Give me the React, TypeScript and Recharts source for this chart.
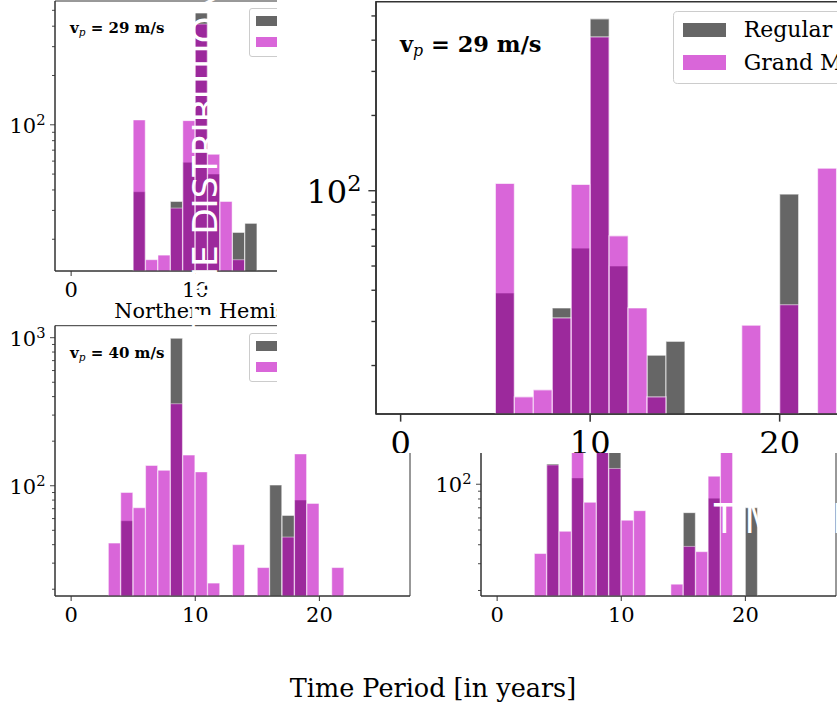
import React from "react";
import { Bar, BarChart, Legend, ReferenceArea, XAxis, YAxis } from "recharts";

const binCenters = [
  0.5, 1.5, 2.5, 3.5, 4.5, 5.5, 6.5, 7.5, 8.5, 9.5, 10.5, 11.5, 12.5,
  13.5, 14.5, 15.5, 16.5, 17.5, 18.5, 19.5, 20.5, 21.5, 22.5, 23.5, 24.5, 25.5,
];
const xTicks = [0, 10, 20];
const xDomain = [-1.3, 27.3];
const seriesNames = ["Regular", "Grand Minima"];

// v_p = 29 m/s (small panel + the enlarged copy)
const regular29 = [null, null, null, null, null, 39, null, null, 34, 59, 487, 50, null, 22, 25, null, null, null, null, null, 97, null, null, null, null, null];
const grand29 = [null, null, null, null, null, 107, 15, 16, 31, 106, 412, 66, 34, 15, null, null, null, null, 29, null, 35, null, 123, null, null, null];

// v_p = 40 m/s
const regular40 = [null, null, null, null, 58, null, null, null, 990, null, null, null, null, null, null, null, 101, 63, 80, null, null, null, null, null, null, null];
const grand40 = [null, null, null, 41, 90, 71, 137, 127, 358, 161, 124, 22, null, 40, null, 28, null, 45, 164, 76, null, 28, null, null, null, null];

// lower right panel (top part hidden)
const regularLR = [null, null, null, null, 136, null, 110, null, 240, 260, null, null, null, null, null, 65, null, 81, null, null, 70, null, null, null, null, null];
const grandLR = [null, null, null, 35, 134, 49, 230, 76, 200, 127, 58, 67, null, null, 22, 39, 36, 113, 180, null, null, null, null, null, null, null];

const yTicks29 = [20, 30, 40, 50, 60, 70, 80, 90, 100, 200, 300, 400, 500];
const yTicks40 = [20, 30, 40, 50, 60, 70, 80, 90, 100, 200, 300, 400, 500, 600, 700, 800, 900, 1000];
const yDomain29 = [12.8, 570];
const yDomain40 = [18, 1205];
const yDomainLR = [18.4, 1104];
const powerLabels: Record<number, string> = { 10: "1", 100: "2", 1000: "3" };

const serif = "'DejaVu Serif', serif";
const axisColor = "#333333";

function XTick(props: any) {
  const { x, y, payload, s } = props;
  return (
    <g>
      <line x1={x} x2={x} y1={y} y2={y + 5 * s} stroke={axisColor} strokeWidth={s} />
      <text x={x} y={y + 26 * s} textAnchor="middle" fontFamily={serif} fontSize={21 * s} fill="#000">
        {payload.value}
      </text>
    </g>
  );
}

function YTick(props: any) {
  const { x, y, payload, s } = props;
  const exp = powerLabels[payload.value];
  const len = exp ? 5 * s : 3 * s;
  return (
    <g>
      <line x1={x - len} x2={x} y1={y} y2={y} stroke={axisColor} strokeWidth={s * 0.9} />
      {exp && (
        <text x={x - 9.5 * s} y={y + 8 * s} textAnchor="end" fontFamily={serif} fontSize={21 * s} fill="#000">
          10
          <tspan dy={-8 * s} fontSize={14.7 * s}>
            {exp}
          </tspan>
        </text>
      )}
    </g>
  );
}

function LegendBox({ s }: { s: number }) {
  return (
    <div
      style={{
        display: "inline-block",
        background: "rgba(255,255,255,0.8)",
        border: "1px solid #cccccc",
        borderRadius: 3 * s,
        padding: `${1 * s}px ${8 * s}px ${3 * s}px ${5.9 * s}px`,
        fontFamily: serif,
        fontSize: 14.4 * s,
        whiteSpace: "nowrap",
        color: "#000",
      }}
    >
      {seriesNames.map((n, i) => (
        <div key={n} style={{ display: "flex", alignItems: "center", height: 21.3 * s }}>
          <span
            style={{
              display: "inline-block",
              width: 28 * s,
              height: 9.5 * s,
              marginRight: 11.6 * s,
              background: i === 0 ? "rgba(0,0,0,0.6)" : "rgba(191,0,191,0.6)",
            }}
          />
          <span>{n}</span>
        </div>
      ))}
    </div>
  );
}

interface PanelProps {
  regular: (number | null)[];
  grand: (number | null)[];
  width: number;
  height: number;
  top: number;
  right: number;
  yWidth: number;
  xHeight: number;
  yDomain: number[];
  yTicks: number[];
  s: number;
  legend?: { left: number; top: number };
}

function Panel(p: PanelProps) {
  const data = binCenters.map((x, i) => ({ x, regular: p.regular[i], grand: p.grand[i] }));
  const s = p.s;
  return (
    <BarChart
      width={p.width}
      height={p.height}
      data={data}
      margin={{ top: p.top, right: p.right, left: 0, bottom: 0 }}
      barCategoryGap={0}
      barGap={0}
    >
      <XAxis
        xAxisId="r"
        dataKey="x"
        type="number"
        domain={xDomain}
        allowDataOverflow
        ticks={xTicks}
        interval={0}
        height={p.xHeight}
        tickSize={0}
        tickMargin={0}
        axisLine={{ stroke: axisColor, strokeWidth: s }}
        tick={(t: any) => <XTick {...t} s={s} />}
      />
      {/* second x axis only so the two histograms overlap instead of sitting side by side */}
      <XAxis xAxisId="g" dataKey="x" type="number" domain={xDomain} allowDataOverflow hide height={0} />
      <YAxis
        type="number"
        scale="log"
        domain={p.yDomain}
        allowDataOverflow
        ticks={p.yTicks}
        interval={0}
        width={p.yWidth}
        tickSize={0}
        tickMargin={0}
        axisLine={{ stroke: axisColor, strokeWidth: s }}
        tick={(t: any) => <YTick {...t} s={s} />}
      />
      <Bar
        xAxisId="r"
        dataKey="regular"
        fill="#000000"
        fillOpacity={0.6}
        stroke="#ffffff"
        strokeOpacity={0.6}
        strokeWidth={0.8 * s}
        isAnimationActive={false}
      />
      <Bar
        xAxisId="g"
        dataKey="grand"
        fill="#bf00bf"
        fillOpacity={0.6}
        stroke="#ffffff"
        strokeOpacity={0.6}
        strokeWidth={0.8 * s}
        isAnimationActive={false}
      />
      <ReferenceArea
        xAxisId="r"
        x1={xDomain[0]}
        x2={xDomain[1]}
        y1={p.yDomain[0]}
        y2={p.yDomain[1]}
        fill="none"
        fillOpacity={0}
        stroke={axisColor}
        strokeWidth={s}
        ifOverflow="visible"
      />
      {p.legend && (
        <Legend
          layout="horizontal"
          align="center"
          verticalAlign="middle"
          wrapperStyle={{ position: "absolute", left: p.legend.left, top: p.legend.top, width: "auto" }}
          content={() => <LegendBox s={s} />}
        />
      )}
    </BarChart>
  );
}

function Annotation({ x, y, s, v }: { x: number; y: number; s: number; v: string }) {
  return (
    <text x={x} y={y} fontFamily={serif} fontWeight="bold" fontSize={15 * s} fill="#000" style={{ whiteSpace: "pre" }}>
      v
      <tspan fontStyle="italic" fontWeight="normal" fontSize={10.5 * s} dy={3 * s}>
        p
      </tspan>
      <tspan dy={-3 * s}>{` = ${v} m/s`}</tspan>
    </text>
  );
}

export default function App() {
  return (
    <div
      style={{
        position: "absolute",
        left: 0,
        top: 0,
        width: 837,
        height: 704,
        background: "#fff",
        overflow: "hidden",
      }}
    >
      <div style={{ position: "absolute", left: 420, top: 315 }}>
        <Panel regular={regularLR} grand={grandLR} width={430} height={321} top={10.7} right={14} yWidth={61} xHeight={40} yDomain={yDomainLR} yTicks={yTicks40} s={1} />
      </div>
      <div style={{ position: "absolute", left: 0, top: 0 }}>
        <Panel regular={regular29} grand={grand29} width={420} height={310} top={1} right={10} yWidth={55} xHeight={39} yDomain={yDomain29} yTicks={yTicks29} s={1} legend={{ left: 249.3, top: 8.3 }} />
      </div>
      <div style={{ position: "absolute", left: 0, top: 315 }}>
        <Panel regular={regular40} grand={grand40} width={420} height={321} top={10.7} right={10} yWidth={55} xHeight={40} yDomain={yDomain40} yTicks={yTicks40} s={1} legend={{ left: 249.3, top: 18.3 }} />
      </div>
      <svg style={{ position: "absolute", left: 0, top: 0 }} width={837} height={704}>
        <Annotation x={70} y={33.3} s={1} v="29" />
        <Annotation x={70} y={358.3} s={1} v="40" />
        <text x={231} y={318.3} textAnchor="middle" fontFamily={serif} fontSize={20.8} fill="#000">
          Northern Hemisphere
        </text>
      </svg>
      <div
        style={{
          position: "absolute",
          left: 277,
          top: 0,
          width: 560,
          height: 453,
          background: "#fff",
          overflow: "hidden",
        }}
      >
        <Panel regular={regular29} grand={grand29} width={650} height={453} top={1.7} right={9} yWidth={99} xHeight={39} yDomain={yDomain29} yTicks={yTicks29} s={1.527} legend={{ left: 396.3, top: 11 }} />
      </div>
      <svg style={{ position: "absolute", left: 0, top: 0, pointerEvents: "none" }} width={837} height={704}>
        <Annotation x={400} y={51.7} s={1.5} v="29" />
        <text
          transform="translate(216.8,327) rotate(-90)"
          fontFamily="'DejaVu Sans', sans-serif"
          fontSize={34}
          fill="#fff"
        >
          TIME DISTRIBUTION
        </text>
        <text transform="translate(714,533) scale(1,1.2)" fontFamily="'DejaVu Sans', sans-serif" fontSize={34} fill="#fff">
          TIME DISTRIBUTION
        </text>
        <text x={433} y={697} textAnchor="middle" fontFamily={serif} fontSize={25.5} fill="#000">
          Time Period [in years]
        </text>
      </svg>
    </div>
  );
}
